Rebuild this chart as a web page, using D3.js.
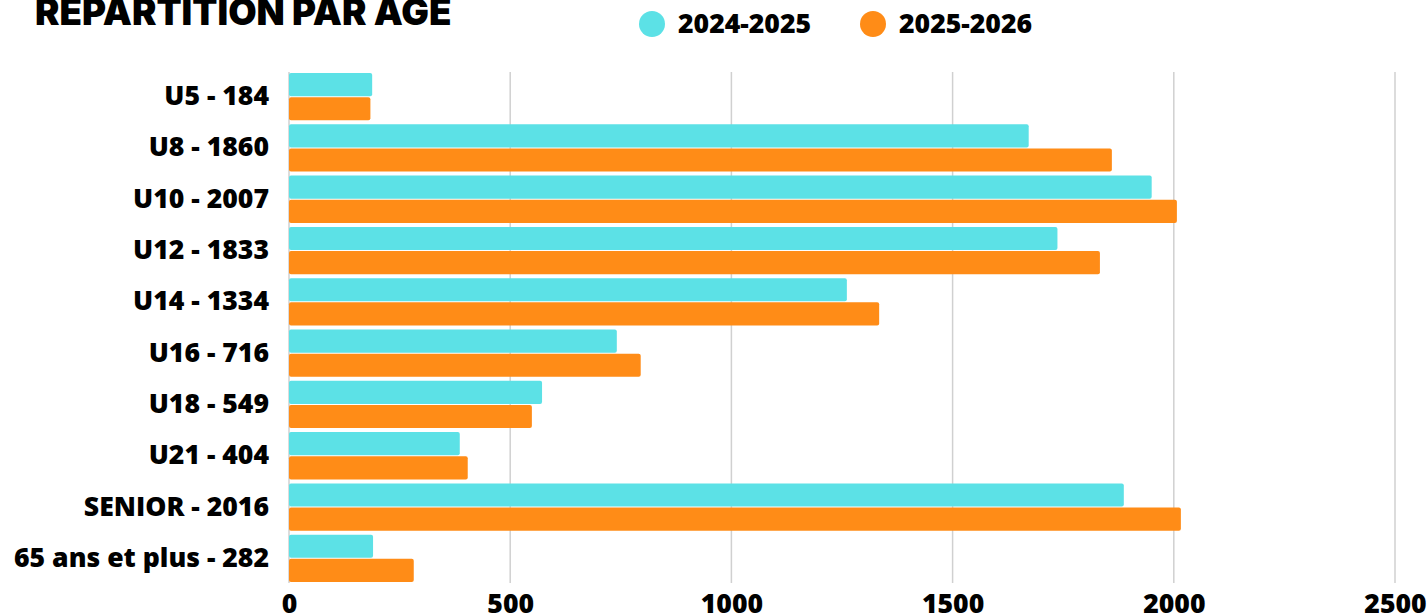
<!DOCTYPE html>
<html>
<head>
<meta charset="utf-8">
<script src="https://cdn.jsdelivr.net/npm/d3@7"></script>
<style>
  body { margin: 0; background: #fff; }
  svg { display: block; }
</style>
</head>
<body>
<script>
'use strict';

// data
var categories = ['U5', 'U8', 'U10', 'U12', 'U14', 'U16', 'U18', 'U21', 'SENIOR', '65 ans et plus'];
var labelCounts = [184, 1860, 2007, 1833, 1334, 716, 549, 404, 2016, 282];
var season1 = [188, 1672, 1950, 1737, 1261, 741, 572, 386, 1887, 190];
var season2 = [184, 1860, 2007, 1833, 1334, 795, 549, 404, 2016, 282];
var seriesNames = ['2024-2025', '2025-2026'];
var xTicks = [0, 500, 1000, 1500, 2000, 2500];

var colors = ['#5ce1e6', '#ff8c17'];
var width = 1428, height = 616;
var fontLabel = '"Open Sans", "Noto Sans", sans-serif';

var svg = d3.select('body').append('svg')
    .attr('width', width)
    .attr('height', height);

// scales
var x = d3.scaleLinear().domain([0, 2500]).range([289, 1395]);
var y = d3.scaleBand().domain(categories).range([73, 582]).paddingInner(0.078).paddingOuter(0);
var ySub = d3.scaleBand().domain(seriesNames).range([0, y.bandwidth()]).paddingInner(0.04);

// gridlines
svg.append('g')
    .selectAll('line')
    .data(xTicks)
    .enter().append('line')
    .attr('x1', function(d) { return x(d); })
    .attr('x2', function(d) { return x(d); })
    .attr('y1', 72)
    .attr('y2', 583)
    .attr('stroke', '#d0d0d0')
    .attr('stroke-width', 1.5);

// bars
var rows = categories.map(function(c, i) {
    return {cat: c, values: [season1[i], season2[i]]};
});

var groups = svg.append('g').selectAll('g')
    .data(rows)
    .enter().append('g')
    .attr('transform', function(d) { return 'translate(0,' + y(d.cat) + ')'; });

groups.selectAll('rect')
    .data(function(d) { return d.values.map(function(v, j) { return {v: v, s: seriesNames[j], j: j}; }); })
    .enter().append('rect')
    .attr('x', x(0))
    .attr('y', function(d) { return ySub(d.s); })
    .attr('width', function(d) { return x(d.v) - x(0); })
    .attr('height', ySub.bandwidth())
    .attr('rx', 2)
    .attr('fill', function(d) { return colors[d.j]; });

// category labels
var yAxis = svg.append('g')
    .attr('transform', 'translate(279,0)')
    .call(d3.axisLeft(y).tickSize(0).tickPadding(10)
        .tickFormat(function(d, i) { return d + ' - ' + labelCounts[i]; }));
yAxis.select('.domain').remove();
yAxis.selectAll('text')
    .attr('font-family', fontLabel)
    .attr('font-weight', 800)
    .attr('font-size', 26.6)
    .attr('fill', '#000');

// x axis labels
var xAxis = svg.append('g')
    .attr('transform', 'translate(0,594)')
    .call(d3.axisBottom(x).tickValues(xTicks).tickSize(0).tickPadding(0)
        .tickFormat(d3.format('d')));
xAxis.select('.domain').remove();
xAxis.selectAll('text')
    .attr('font-family', fontLabel)
    .attr('font-weight', 800)
    .attr('font-size', 26.6)
    .attr('fill', '#000');

// title
svg.append('text')
    .attr('x', 35)
    .attr('y', 25)
    .attr('font-family', 'Inter, "DejaVu Sans", sans-serif')
    .attr('font-weight', 900)
    .attr('font-size', 36.7)
    .attr('fill', '#000')
    .text('REPARTITION PAR AGE');

// legend
var legend = svg.append('g').selectAll('g')
    .data(seriesNames)
    .enter().append('g')
    .attr('transform', function(d, i) { return 'translate(' + (652 + i * 221) + ',24)'; });

legend.append('circle')
    .attr('r', 13)
    .attr('fill', function(d, i) { return colors[i]; });

legend.append('text')
    .attr('x', 26)
    .attr('dy', '0.35em')
    .attr('font-family', fontLabel)
    .attr('font-weight', 800)
    .attr('font-size', 26.6)
    .attr('fill', '#000')
    .text(function(d) { return d; });
</script>
</body>
</html>
